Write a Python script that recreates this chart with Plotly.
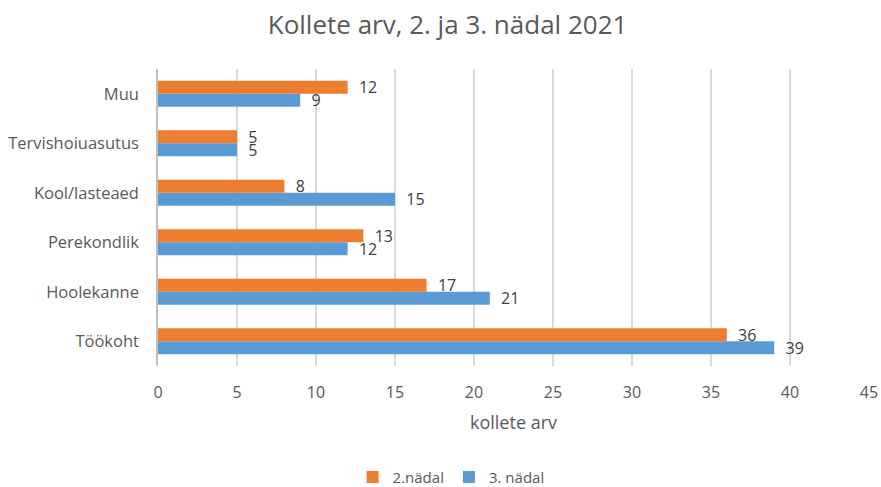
import plotly.graph_objects as go

categories = ["Töökoht", "Hoolekanne", "Perekondlik", "Kool/lasteaed", "Tervishoiuasutus", "Muu"]
week2 = [36, 17, 13, 8, 5, 12]
week3 = [39, 21, 12, 15, 5, 9]
x_ticks = [0, 5, 10, 15, 20, 25, 30, 35, 40, 45]

FONT = "Open Sans"
TXT = "#595959"

fig = go.Figure()
fig.add_trace(go.Bar(
    y=categories, x=week3, orientation="h", name="3. nädal",
    marker=dict(color="#5B9BD5", line=dict(width=0)),
    text=week3, texttemplate="\u00a0\u00a0%{x}", textposition="outside",
    constraintext="none",
    textfont=dict(family=FONT, size=16, color="#404040"),
    cliponaxis=False, legendrank=2,
))
fig.add_trace(go.Bar(
    y=categories, x=week2, orientation="h", name="2.nädal",
    marker=dict(color="#ED7D31", line=dict(width=0)),
    text=week2, texttemplate="\u00a0\u00a0%{x}", textposition="outside",
    constraintext="none",
    textfont=dict(family=FONT, size=16, color="#404040"),
    cliponaxis=False, legendrank=1,
))

fig.update_layout(
    width=881, height=487,
    paper_bgcolor="white", plot_bgcolor="white",
    margin=dict(l=158, r=12, t=69, b=121, autoexpand=False),
    barmode="group", bargap=0.47, bargroupgap=0,
    title=dict(text="Kollete arv, 2. ja 3. nädal 2021", x=0.508, xanchor="center",
               y=0.9487, yanchor="middle",
               font=dict(family=FONT, size=26, color=TXT)),
    font=dict(family=FONT, size=16, color=TXT),
    xaxis=dict(range=[0, 45], tickvals=x_ticks, showgrid=True, gridcolor="#D9D9D9",
               gridwidth=1.5, zeroline=False, showline=False, automargin=False,
               ticks="outside", ticklen=12, tickcolor="rgba(0,0,0,0)",
               tickfont=dict(family=FONT, size=16, color=TXT),
               title=dict(text="kollete arv", standoff=14,
                          font=dict(family=FONT, size=18, color=TXT))),
    yaxis=dict(type="category", categoryorder="array", categoryarray=categories,
               showline=True, linecolor="#BFBFBF", linewidth=1.5, showgrid=False,
               automargin=False,
               ticks="outside", ticklen=14, tickcolor="rgba(0,0,0,0)",
               tickfont=dict(family=FONT, size=16.5, color=TXT)),
    legend=dict(orientation="h", xref="container", yref="container",
                x=0.512, xanchor="center", y=0.02, yanchor="middle",
                font=dict(family=FONT, size=15, color=TXT),
                itemwidth=30, traceorder="normal"),
    showlegend=True,
)

fig.write_html(
    "out.html",
    config={"displayModeBar": False},
    post_script="document.body.style.margin='0';document.documentElement.style.overflow='hidden';",
)
